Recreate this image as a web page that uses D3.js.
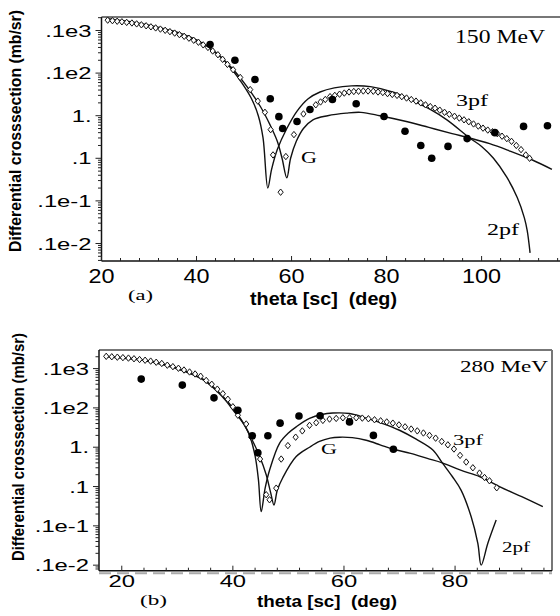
<!DOCTYPE html>
<html><head><meta charset="utf-8">
<script src="https://cdn.jsdelivr.net/npm/d3@7"></script>
<style>body{margin:0;background:#fff} svg{display:block}</style>
</head><body>
<svg id="c" width="560" height="616"></svg>
<script>
// ---------- DATA ----------
const yTickVals   = [100, 10, 1, 0.1, 0.01, 0.001];
const yTickLabels = [".1e3", ".1e2", "1.", ".1", ".1e-1", ".1e-2"];
const xTicksA = [20, 40, 60, 80, 100];
const xTicksB = [20, 40, 60, 80];

// Panel (a) 150 MeV : [theta deg, cross section mb/sr]
const dataA = [[42.85,47],[48.08,20],[52.3,7.1],[55.52,2.5],[57.33,0.95],[58.13,0.5],[61.15,0.73],[63.87,1.4],[68.6,2.4],[73.6,1.9],[79.46,0.96],[83.88,0.43],[87.2,0.2],[89.5,0.1],[92.93,0.19],[96.96,0.29],[102.79,0.4],[108.83,0.56],[113.86,0.58]];
const pf3A = [[21.3,175],[22.3,170],[23.3,165],[24.3,160],[25.3,155],[26.4,150],[27.4,143],[28.4,136],[29.4,129],[30.4,122],[31.4,115],[32.4,108],[33.4,101],[34.4,94],[35.4,87],[36.4,80],[37.4,73],[38.4,66],[39.4,59],[40.4,53],[41.4,46],[42.4,40],[43.4,33],[44.5,27],[45.5,21],[46.5,16],[47.7,12],[49.2,7.9],[51.3,4.1],[52.9,2.2],[54.4,1.2],[55.6,0.47],[56.1,0.12],[57.7,0.016],[58.8,0.11],[60.5,0.36],[62.5,1.1],[63.9,1.4],[65.1,1.8],[66.1,2.1],[67.1,2.4],[68.1,2.8],[69.1,3.0],[70.1,3.2],[71.1,3.4],[72.1,3.6],[73.1,3.7],[74.1,3.75],[75.1,3.8],[76.1,3.8],[77.2,3.75],[78.2,3.6],[79.2,3.5],[80.2,3.3],[81.2,3.15],[82.2,3.0],[83.2,2.8],[84.2,2.6],[85.2,2.4],[86.2,2.2],[87.2,2.0],[88.2,1.8],[89.2,1.64],[90.2,1.5],[91.2,1.35],[92.2,1.2],[93.2,1.08],[94.3,0.97],[95.3,0.88],[96.3,0.8],[97.3,0.72],[98.3,0.64],[99.3,0.57],[100.3,0.51],[101.3,0.46],[102.3,0.42],[103.3,0.38],[104.3,0.33],[105.3,0.29],[106.3,0.25],[107.3,0.2],[108.3,0.16],[109.3,0.12],[110.1,0.1]];
const pf2A = [[21.3,190],[25.3,165],[30.4,130],[35.4,95],[40.4,57],[44.5,28],[47.5,12],[49.5,6],[51.5,2.6],[53,1.0],[54,0.3],[55,0.02],[55.8,0.055],[57,0.16],[59,0.5],[61.2,1.3],[63.5,2.5],[66,3.6],[69,4.5],[72.6,5.0],[76.6,4.8],[81.6,3.5],[85.7,2.2],[89.2,1.4],[92.7,0.8],[97.5,0.3],[100,0.19],[102.5,0.1],[105.3,0.036],[107.5,0.012],[109,0.004],[109.6,0.002],[110.2,0.0006]];
const gA = [[21.3,180],[25.3,155],[30.4,125],[35.4,90],[40.4,55],[44.5,27],[47.5,13],[50.5,5],[53.5,1.6],[55.5,0.6],[57,0.25],[58,0.1],[59,0.035],[59.8,0.1],[61,0.25],[62.5,0.5],[64.5,0.8],[67.6,1.0],[71.5,1.15],[74.6,1.2],[78.6,1.0],[83.7,0.75],[88.9,0.53],[93.8,0.38],[97.5,0.3],[101.7,0.22],[105.8,0.15],[110.8,0.09],[114.8,0.055]];

// Panel (b) 280 MeV
const dataB = [[23.5,54],[30.9,38],[36.6,18],[40.9,8.7],[43.5,1.95],[44.5,0.72],[46.3,1.95],[48.5,4.1],[51.9,6.2],[55.7,6.3],[61,4.4],[65.3,2.0],[68.9,0.89]];
const pf3B = [[17.2,205],[18.2,200],[19.2,195],[20.2,190],[21.2,185],[22.2,178],[23.2,170],[24.2,163],[25.2,155],[26.2,145],[27.2,135],[28.2,122],[29.2,112],[30.2,102],[31.2,92],[32.2,82],[33.2,73],[34.2,64],[35.2,50],[36.2,40],[37.2,30],[38.2,23],[39.1,16.6],[40,10.7],[40.9,6.5],[42.4,3.9],[43.3,1.8],[44.9,0.5],[46,0.062],[46.6,0.046],[47.8,0.091],[48.7,0.5],[49.9,1.1],[51.3,1.8],[52.5,2.6],[53.8,3.6],[55,4.2],[56.2,4.8],[57.4,5.2],[58.6,5.4],[59.8,5.6],[61,5.6],[62.2,5.6],[63.3,5.5],[64.4,5.3],[65.5,5.0],[66.6,4.7],[67.7,4.4],[68.8,4.1],[69.9,3.7],[71,3.3],[72.1,2.9],[73.2,2.6],[74.3,2.3],[75.4,2.0],[76.5,1.7],[77.6,1.4],[78.7,1.15],[79.8,0.9],[80.9,0.62],[82,0.42],[83.2,0.3],[84.4,0.22],[85.3,0.17],[86.2,0.14],[87.5,0.093]];
const pf2B = [[17.2,205],[20,190],[24,165],[28,125],[32,80],[35,50],[38,21],[40,10],[41.5,5],[43,2],[44,0.6],[44.6,0.15],[45.1,0.023],[45.8,0.09],[46.6,0.26],[48.4,1.26],[50,2.3],[51.4,3.3],[53.8,5.4],[56,6.8],[58,7.4],[61,7.2],[64,5.5],[67,4.0],[70,2.7],[73,1.6],[76,0.85],[77.7,0.4],[79.5,0.18],[81.1,0.08],[82.9,0.017],[84.1,0.0036],[84.7,0.001],[85.9,0.0036],[87.4,0.014]];
const gB = [[17.2,200],[20,185],[24,160],[28,120],[32,78],[35,48],[38,20],[40,9],[42,3.8],[43.5,1.5],[44.8,0.6],[46,0.2],[46.8,0.07],[47.4,0.034],[48,0.08],[49,0.17],[51.4,0.58],[53.8,1.0],[55.6,1.4],[57.5,1.7],[59.2,1.8],[61.5,1.75],[64,1.5],[66.5,1.15],[68.7,0.9],[72,0.7],[75,0.52],[77.7,0.4],[81,0.26],[84.4,0.18],[88,0.1],[92,0.055],[95.8,0.031]];

// ---------- DRAW ----------
const svg = d3.select("#c");

function txt(g, x, y, s, o) {
  const t = g.append("text").attr("x", x).attr("y", y).text(s)
    .attr("font-family", o.family || "'Liberation Sans', Arial, sans-serif")
    .attr("font-size", o.size).attr("font-weight", o.weight || "normal")
    .attr("text-anchor", o.anchor || "start").attr("fill", "#000");
  if (o.len) t.attr("textLength", o.len).attr("lengthAdjust", "spacingAndGlyphs");
  if (o.rot) t.attr("transform", `rotate(${o.rot},${x},${y})`);
  return t;
}

function panel(c) {
  const g = svg.append("g");
  const x = d3.scaleLinear().domain(c.xd).range([c.L, c.R]);
  const y = d3.scaleLog().domain(c.yd).range([c.T, c.B]);
  const clipId = "clip" + c.id;
  svg.append("clipPath").attr("id", clipId).append("rect")
    .attr("x", c.L).attr("y", c.T - 3).attr("width", c.R - c.L).attr("height", c.B - c.T + 3);

  // frame
  g.append("line").attr("x1", c.L).attr("x2", c.R).attr("y1", c.T).attr("y2", c.T)
    .attr("stroke", "#777").attr("stroke-width", 2);
  if (c.rightBorder) g.append("line").attr("x1", c.R).attr("x2", c.R).attr("y1", c.T).attr("y2", c.B)
    .attr("stroke", "#777").attr("stroke-width", 2);
  if (c.dashBottom) g.append("line").attr("x1", c.L).attr("x2", c.R).attr("y1", c.B + 2.5).attr("y2", c.B + 2.5)
    .attr("stroke", "#aaa").attr("stroke-width", 2).attr("stroke-dasharray", "12,6");
  g.append("line").attr("x1", c.L).attr("x2", c.L).attr("y1", c.T).attr("y2", c.B)
    .attr("stroke", "#111").attr("stroke-width", 1.5);
  g.append("line").attr("x1", c.L).attr("x2", c.R).attr("y1", c.B).attr("y2", c.B)
    .attr("stroke", "#111").attr("stroke-width", 1.5);

  // y ticks (log, minor)
  const [ymax, ymin] = c.yd;
  for (let k = -5; k <= 3; k++) {
    for (let m = 1; m <= 9; m++) {
      const v = m * Math.pow(10, k);
      if (v > ymax || v < ymin) continue;
      const L = m === 1 ? 6 : 3.5;
      g.append("line").attr("x1", c.L - L).attr("x2", c.L).attr("y1", y(v)).attr("y2", y(v))
        .attr("stroke", "#222").attr("stroke-width", 1);
    }
  }
  yTickVals.forEach((v, i) => {
    const yy = y(v);
    g.append("text").attr("transform", `translate(${c.L - 10},${yy}) scale(1.4,1)`)
      .attr("text-anchor", "end").attr("dy", "0.36em")
      .attr("font-family", "'Liberation Sans', Arial, sans-serif").attr("font-size", 17)
      .text(yTickLabels[i]);
  });

  // x ticks
  for (let d = 20; d <= c.xd[1]; d += 4) {
    const major = (d % 20 === 0);
    g.append("line").attr("x1", x(d)).attr("x2", x(d)).attr("y1", c.B).attr("y2", c.B - (major ? 5 : 3))
      .attr("stroke", "#222").attr("stroke-width", 1);
  }
  c.xt.forEach(d => {
    g.append("text").attr("transform", `translate(${x(d)},${c.xlY}) scale(${c.xsx},1)`)
      .attr("text-anchor", "middle")
      .attr("font-family", "'Liberation Sans', Arial, sans-serif").attr("font-size", c.xfs)
      .text(d);
  });

  // curves
  const line = d3.line().x(d => x(d[0])).y(d => y(d[1])).curve(d3.curveCatmullRom.alpha(0.5));
  const cg = g.append("g").attr("clip-path", `url(#${clipId})`);
  [c.pf2, c.g].forEach(arr => {
    cg.append("path").attr("d", line(arr)).attr("fill", "none")
      .attr("stroke", "#111").attr("stroke-width", 1.4);
  });
  // diamonds
  cg.selectAll(".dm").data(c.pf3).enter().append("path")
    .attr("d", "M0,-3.2L2.6,0L0,3.2L-2.6,0Z")
    .attr("transform", d => `translate(${x(d[0])},${y(d[1])})`)
    .attr("fill", "#fff").attr("stroke", "#111").attr("stroke-width", 1);
  // data points
  cg.selectAll(".pt").data(c.data).enter().append("circle")
    .attr("cx", d => x(d[0])).attr("cy", d => y(d[1])).attr("r", 3.8).attr("fill", "#000");

  // labels
  const serif = "'Liberation Serif', 'Times New Roman', serif";
  c.labels.forEach(l => txt(g, l[1], l[2], l[0], {family: serif, size: l[4], len: l[3]}));
  txt(g, c.xtitle[0], c.xtitle[1], "theta [sc]\u00a0 (deg)", {size: c.xtitle[3], weight: "bold", anchor: "middle", len: c.xtitle[2]});
  txt(g, c.ytitle[0], c.ytitle[1], "Differential crosssection (mb/sr)", {size: 16.5, weight: "bold", anchor: "middle", rot: -90, len: c.ytitle[2]});
}

panel({
  id: "a", L: 101.5, R: 560, T: 17, B: 261,
  xd: [20, 116.5], yd: [207.5, 0.000388],
  xt: xTicksA, xlY: 283, xfs: 19.5, xsx: 1.2,
  data: dataA, pf3: pf3A, pf2: pf2A, g: gA,
  labels: [["150 MeV", 455, 43, 90, 18], ["3pf", 456, 106, 32, 16], ["2pf", 487, 235, 32, 16], ["G", 301, 163, 16, 16], ["(a)", 128, 300, 25, 15]],
  xtitle: [323.5, 305, 147, 18.5], ytitle: [21, 131, 242]
});
panel({
  id: "b", L: 99, R: 552, T: 350, B: 570.7, rightBorder: true, dashBottom: true,
  xd: [15.9, 97.45], yd: [297, 0.000723],
  xt: xTicksB, xlY: 587, xfs: 17, xsx: 1.4,
  data: dataB, pf3: pf3B, pf2: pf2B, g: gB,
  labels: [["280 MeV", 460, 372, 88, 16], ["3pf", 453, 445, 30, 15], ["2pf", 502, 552, 28, 15], ["G", 321, 454, 16, 15], ["(b)", 140, 605, 27, 15]],
  xtitle: [327, 607, 140, 17], ytitle: [24, 447, 228]
});
</script>
</body></html>
